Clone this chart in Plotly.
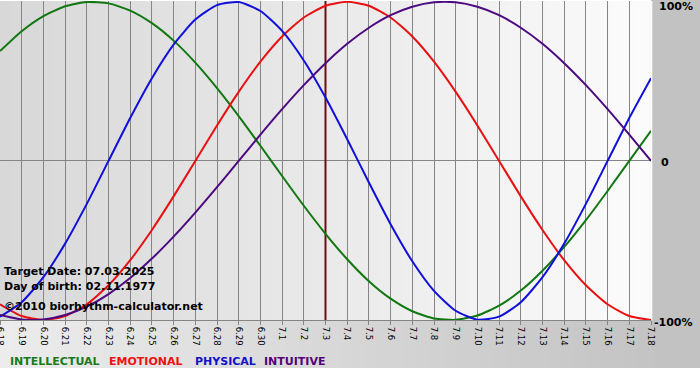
import plotly.graph_objects as go

# ---- data ----
day_labels = ["6.18", "6.19", "6.20", "6.21", "6.22", "6.23", "6.24", "6.25", "6.26", "6.27",
              "6.28", "6.29", "6.30", "7.1", "7.2", "7.3", "7.4", "7.5", "7.6", "7.7",
              "7.8", "7.9", "7.10", "7.11", "7.12", "7.13", "7.14", "7.15", "7.16", "7.17", "7.18"]

intellectual = [69.0, 81.5, 91.0, 97.2, 99.9, 99.0, 94.5, 86.6, 75.6, 61.8, 45.8, 28.2, 9.5,
                -9.5, -28.2, -45.8, -61.8, -75.6, -86.6, -94.5, -99.0, -99.9, -97.2, -91.0,
                -81.5, -69.0, -54.1, -37.2, -18.9, 0.0, 18.9]
emotional = [-90.1, -97.5, -100.0, -97.5, -90.1, -78.2, -62.4, -43.4, -22.3, 0.0, 22.3, 43.4,
             62.4, 78.2, 90.1, 97.5, 100.0, 97.5, 90.1, 78.2, 62.4, 43.4, 22.3, 0.0, -22.3,
             -43.4, -62.4, -78.2, -90.1, -97.5, -100.0]
physical = [-97.9, -88.8, -73.1, -52.0, -27.0, 0.0, 27.0, 52.0, 73.1, 88.8, 97.9, 99.8, 94.2,
            81.7, 63.1, 39.8, 13.6, -13.6, -39.8, -63.1, -81.7, -94.2, -99.8, -97.9, -88.8,
            -73.1, -52.0, -27.0, 0.0, 27.0, 52.0]
intuitive = [-96.9, -99.7, -99.7, -96.9, -91.6, -83.7, -73.6, -61.4, -47.6, -32.5, -16.5, 0.0,
             16.5, 32.5, 47.6, 61.4, 73.6, 83.7, 91.6, 96.9, 99.7, 99.7, 96.9, 91.6, 83.7,
             73.6, 61.4, 47.6, 32.5, 16.5, 0.0]

target_day = "7.3"
series_names = ["INTELLECTUAL", "EMOTIONAL", "PHYSICAL", "INTUITIVE"]
y_tick_text = ["100%", "0", "-100%"]
info_lines = ["Target Date: 07.03.2025", "Day of birth: 02.11.1977", "\u00a92010 biorhythm-calculator.net"]

# ---- styling ----
line_colors = ["#117711", "#e81010", "#1010d8", "#4c0a80"]
legend_colors = ["#1a7a1a", "#ee1111", "#1111cc", "#550077"]
FONT = "DejaVu Sans"

W, H = 700, 380
ML, MR, MT, MB = 0, 49, 1, 60
PW, PH = W - ML - MR, H - MT - MB


def px_x(px):
    return (px - ML) / PW


def px_y(py):
    return (H - MB - py) / PH


def lerp_col(c1, c2, t):
    a = [int(c1[i:i + 2], 16) for i in (1, 3, 5)]
    b = [int(c2[i:i + 2], 16) for i in (1, 3, 5)]
    return "#%02x%02x%02x" % tuple(round(a[k] + (b[k] - a[k]) * t) for k in range(3))


shapes = []
# right gray panel
shapes.append(dict(type="rect", xref="paper", yref="paper", x0=1, x1=px_x(W), y0=px_y(368), y1=px_y(0),
                   fillcolor="#c2c2c2", line_width=0, layer="below"))
# bottom gradient strip (light left -> darker right)
N = 50
for i in range(N):
    t = i / (N - 1)
    shapes.append(dict(type="rect", xref="paper", yref="paper",
                       x0=i / N, x1=(i + 1) / N + 0.002, y0=px_y(368), y1=0,
                       fillcolor=lerp_col("#ececec", "#c4c4c4", t), line_width=0, layer="below"))
# plot area gradient (gray left -> near white right)
for i in range(N):
    t = i / (N - 1)
    shapes.append(dict(type="rect", xref="paper", yref="paper",
                       x0=i / N, x1=(i + 1) / N + 0.002, y0=0, y1=1,
                       fillcolor=lerp_col("#d8d8d8", "#fbfbfb", t), line_width=0, layer="below"))

fig = go.Figure()

# target date marker
fig.add_trace(go.Scatter(x=[target_day, target_day], y=[-100, 100.5], mode="lines",
                         line=dict(color="#6a1010", width=2), hoverinfo="skip", showlegend=False))

for name, vals, col in zip(series_names, [intellectual, emotional, physical, intuitive], line_colors):
    fig.add_trace(go.Scatter(x=day_labels, y=vals, mode="lines", name=name,
                             line=dict(color=col, width=2, shape="spline", smoothing=0.6),
                             showlegend=False))

annotations = []
# left info text
for txt, py in zip(info_lines, [271, 286, 306]):
    annotations.append(dict(text=txt, xref="paper", yref="paper", x=px_x(2), y=px_y(py),
                            xanchor="left", yanchor="middle", showarrow=False,
                            font=dict(family=FONT, size=11, color="#000000", weight="bold")))
# right y labels
for txt, pxl, py in zip(y_tick_text, [657, 659, 652], [7, 162, 322]):
    annotations.append(dict(text=txt, xref="paper", yref="paper", x=px_x(pxl), y=px_y(py),
                            xanchor="left", yanchor="middle", showarrow=False,
                            font=dict(family=FONT, size=11, color="#000000", weight="bold")))
# legend words
for txt, col, pxl in zip(series_names, legend_colors, [8, 107, 193, 262]):
    annotations.append(dict(text=txt, xref="paper", yref="paper", x=px_x(pxl), y=px_y(361),
                            xanchor="left", yanchor="middle", showarrow=False,
                            font=dict(family=FONT, size=11, color=col, weight="bold")))

fig.update_layout(
    width=W, height=H,
    margin=dict(l=ML, r=MR, t=MT, b=MB, autoexpand=False),
    paper_bgcolor="#ffffff",
    plot_bgcolor="rgba(0,0,0,0)",
    shapes=shapes,
    annotations=annotations,
    showlegend=False,
    xaxis=dict(type="category", categoryorder="array", categoryarray=day_labels,
               range=[0, len(day_labels) - 1], showgrid=True, gridcolor="#858585", gridwidth=1,
               ticks="outside", ticklen=4, tickcolor="#858585", tickangle=90,
               tickfont=dict(family=FONT, size=8.5, color="#000000"), automargin=False,
               showline=True, linecolor="#858585", linewidth=1, zeroline=False),
    yaxis=dict(range=[-100, 100.5], showgrid=False, zeroline=True, zerolinecolor="#858585",
               zerolinewidth=1, showticklabels=False, ticks="", fixedrange=True, automargin=False),
)

fig.write_html("out.html", config={"displayModeBar": False},
               post_script="document.body.style.margin='0';")
